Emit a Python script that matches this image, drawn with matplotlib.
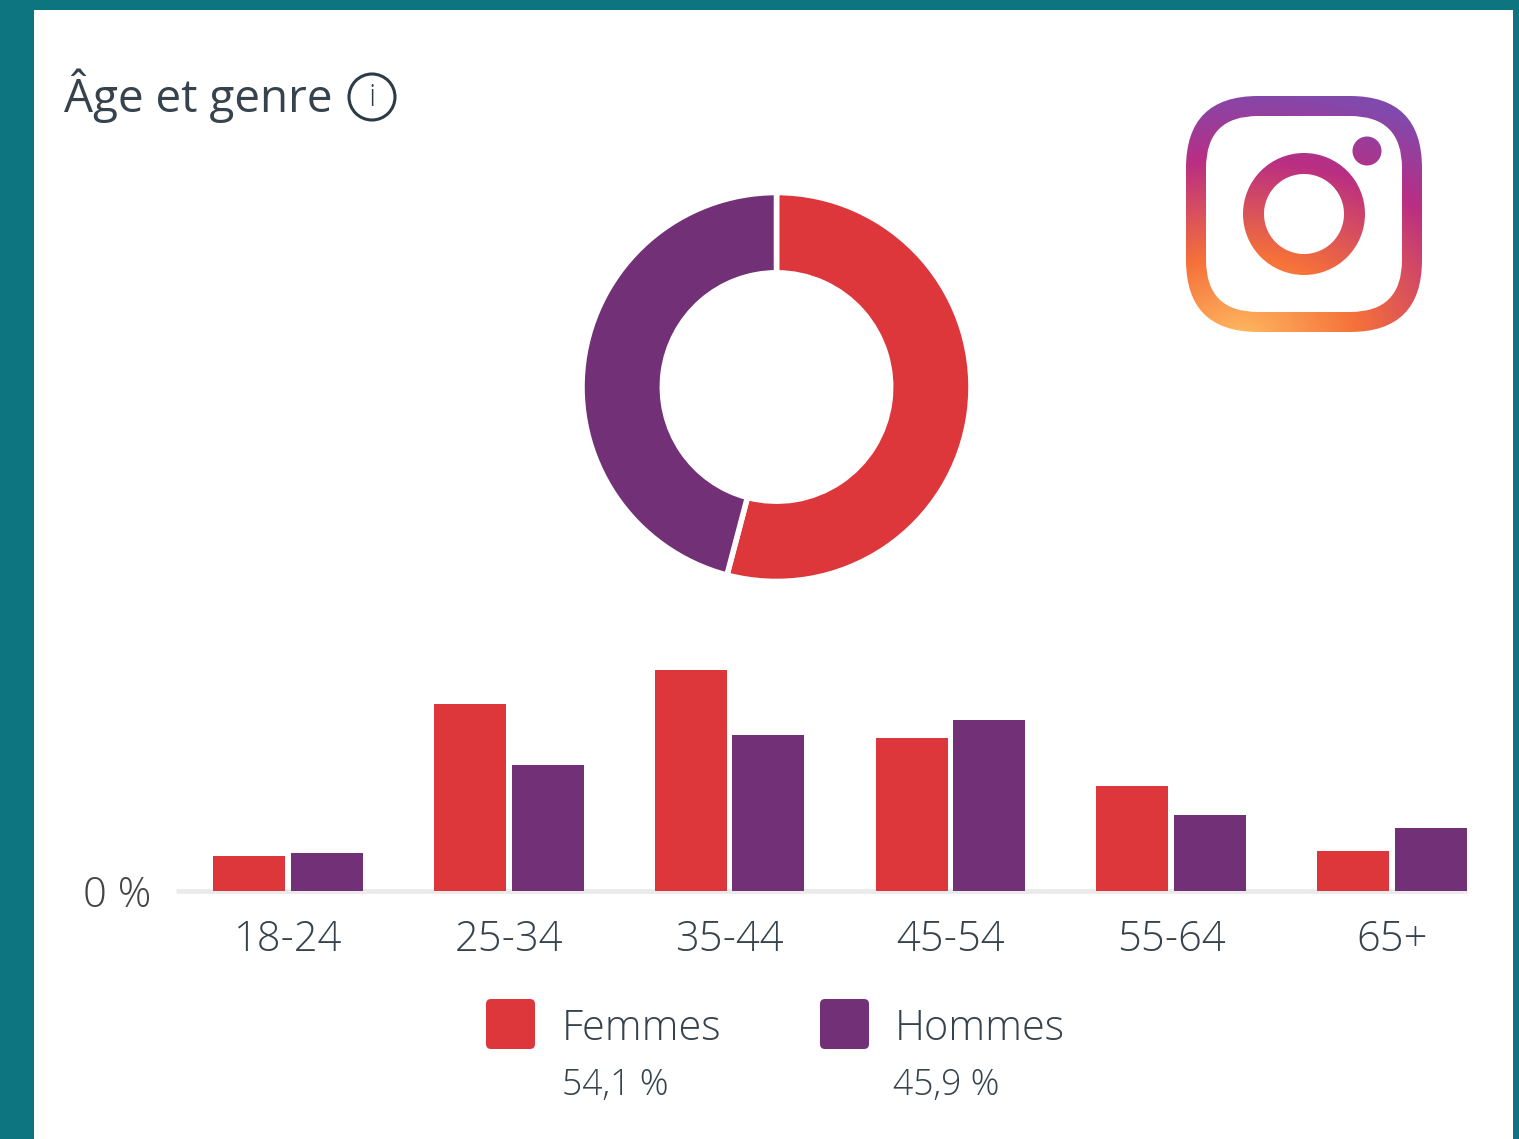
import numpy as np
import matplotlib
matplotlib.use("Agg")
import matplotlib.pyplot as plt
from matplotlib.colors import LinearSegmentedColormap
from matplotlib.patches import Circle, FancyBboxPatch, Rectangle

W, H = 1519, 1139

age_groups = ["18-24", "25-34", "35-44", "45-54", "55-64", "65+"]
femmes = [2.6, 13.7, 16.2, 11.2, 7.7, 2.9]
hommes = [2.8, 9.2, 11.4, 12.5, 5.6, 4.6]
genders = ["Femmes", "Hommes"]
gender_share = [54.1, 45.9]
gender_labels = ["54,1 %", "45,9 %"]

RED = "#DD373C"
PURPLE = "#723076"
TEAL = "#0D7580"
TEXT = "#36434D"
FONT = "Open Sans"

plt.rcParams["font.family"] = [FONT, "DejaVu Sans"]


def px_axes(fig, left, top, right, bottom):
    """Axes placed with image pixel coordinates (y going down)."""
    return fig.add_axes([left / W, 1 - bottom / H, (right - left) / W, (bottom - top) / H])


def draw_background(ax):
    ax.set_xlim(0, W)
    ax.set_ylim(H, 0)
    ax.axis("off")
    ax.add_patch(Rectangle((34, 10), 1479, H - 10, fc="white", ec="none"))
    ax.text(64, 112, "Âge et genre", fontsize=33, color=TEXT, va="baseline")
    ax.add_patch(Circle((372, 97), 23, fc="none", ec="#2C3B46", lw=2.2))
    ax.text(372, 98, "i", fontsize=23, color="#2C3B46", ha="center", va="center", fontweight="light")


def draw_logo(ax):
    stops = [(0.0, "#FEB960"), (0.33, "#F5703A"), (0.72, "#B92E83"), (1.0, "#8249AC")]
    cmap = LinearSegmentedColormap.from_list("insta", stops)
    yy, xx = np.mgrid[90:340, 1180:1430]
    dist = np.sqrt(((xx - 1240) / 1.45) ** 2 + (yy - 335) ** 2) / 245
    extent = (1180, 1430, 340, 90)

    def layer(clip):
        ax.add_patch(clip)
        im = ax.imshow(dist, cmap=cmap, vmin=0, vmax=1, extent=extent, aspect="auto", zorder=clip.get_zorder())
        im.set_clip_path(clip)

    def rounded(x0, y0, x1, y1, r, **kw):
        return FancyBboxPatch((x0 + r, y0 + r), x1 - x0 - 2 * r, y1 - y0 - 2 * r,
                              boxstyle=f"round,pad={r},rounding_size={r}", ec="none", **kw)

    layer(rounded(1186, 96, 1422, 332, 72, fc="none", zorder=2))
    ax.add_patch(rounded(1206, 116, 1402, 312, 52, fc="white", zorder=3))
    layer(Circle((1304, 214), 61, fc="none", ec="none", zorder=4))
    ax.add_patch(Circle((1304, 214), 40, fc="white", ec="none", zorder=5))
    layer(Circle((1367, 151), 14.5, fc="none", ec="none", zorder=6))
    ax.set_xlim(0, W)
    ax.set_ylim(H, 0)


def draw_donut(fig):
    ax = px_axes(fig, 776.5 - 194.5, 387 - 194.5, 776.5 + 194.5, 387 + 194.5)
    ax.pie(gender_share, colors=[RED, PURPLE], startangle=90, counterclock=False, radius=1,
           wedgeprops={"width": 0.413, "edgecolor": "white", "linewidth": 4})
    ax.set_xlim(-1, 1)
    ax.set_ylim(-1, 1)


def draw_bars(fig):
    ax = px_axes(fig, 176, 650, 1467, 891)
    x = np.arange(len(age_groups))
    ax.bar(x - 0.176, femmes, width=0.326, color=RED, zorder=3)
    ax.bar(x + 0.176, hommes, width=0.326, color=PURPLE, zorder=3)
    ax.set_xlim((176 - 288) / 220.8, (1467 - 288) / 220.8)
    ax.set_ylim(0, 241 / 13.65)
    for side in ["top", "left", "right"]:
        ax.spines[side].set_visible(False)
    ax.spines["bottom"].set_color("#EAEAEA")
    ax.spines["bottom"].set_linewidth(3.4)
    ax.spines["bottom"].set_capstyle("butt")
    ax.patch.set_alpha(0)
    ax.set_xticks(x, age_groups, fontsize=30, color=TEXT, fontweight="light")
    ax.set_yticks([0], ["0 %"], fontsize=30, color="#444444", fontweight="light")
    ax.tick_params(axis="both", length=0)
    ax.tick_params(axis="x", pad=20)
    ax.tick_params(axis="y", pad=18)


def draw_legend(ax):
    for name, share, color, bx, tx, sx in zip(genders, gender_labels, [RED, PURPLE],
                                              [486, 820], [562, 895], [562, 893]):
        ax.add_patch(FancyBboxPatch((bx + 5, 1004), 39, 40, boxstyle="round,pad=5,rounding_size=5",
                                    fc=color, ec="none"))
        ax.text(tx, 1040, name, fontsize=30, color=TEXT, fontweight="light", va="baseline")
        ax.text(sx, 1095, share, fontsize=25.7, color=TEXT, fontweight="light", va="baseline")


def main():
    fig = plt.figure(figsize=(W / 100, H / 100), dpi=100, facecolor=TEAL)
    bg = fig.add_axes([0, 0, 1, 1])
    draw_background(bg)
    draw_logo(bg)
    draw_legend(bg)
    draw_donut(fig)
    draw_bars(fig)
    fig.savefig("out.png", dpi=100, facecolor=fig.get_facecolor())


if __name__ == "__main__":
    main()
